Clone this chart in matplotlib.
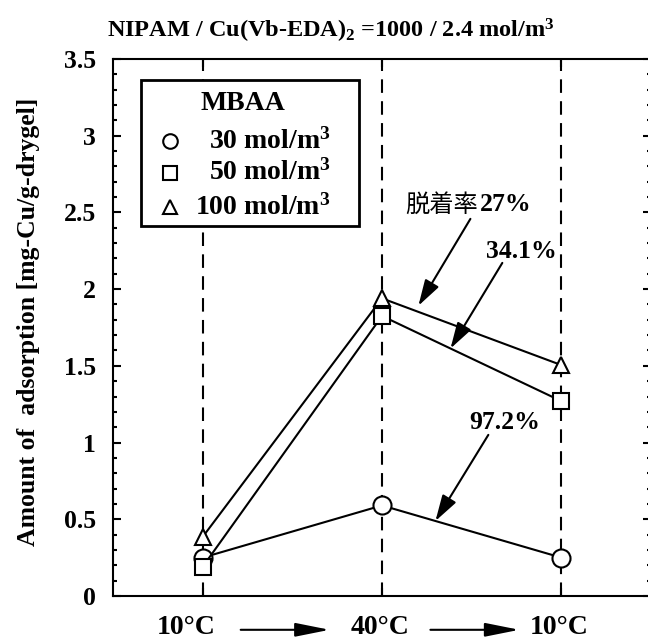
import matplotlib
matplotlib.use('Agg')
import matplotlib.pyplot as plt
from matplotlib.patches import Rectangle
from matplotlib.ticker import MultipleLocator, FormatStrFormatter
import numpy as np

plt.rcParams['font.family'] = 'Liberation Serif'
plt.rcParams['font.weight'] = 'bold'
plt.rcParams['mathtext.fontset'] = 'custom'
plt.rcParams['mathtext.rm'] = 'Liberation Serif:bold'
plt.rcParams['mathtext.bf'] = 'Liberation Serif:bold'
plt.rcParams['mathtext.it'] = 'Liberation Serif:bold'

# data
steps = [1, 2, 3]
step_labels = ['10°C', '40°C', '10°C']
mbaa_labels = ['30 mol/m$^3$', '50 mol/m$^3$', '100 mol/m$^3$']
mbaa_markers = ['o', 's', '^']
ads_30 = [0.25, 0.59, 0.25]
ads_50 = [0.19, 1.825, 1.27]
ads_100 = [0.385, 1.94, 1.505]
desorption = ['97.2%', '34.1%', '27%']

series = [ads_30, ads_50, ads_100]

fig = plt.figure(figsize=(6.48, 6.42), dpi=100)
ax = fig.add_axes([0.1744, 0.0717, 0.8302, 0.8364])

for vals, mk in zip(series, mbaa_markers):
    ms = 13 if mk == 'o' else 12
    ax.plot(steps, vals, color='k', lw=1.5, marker=mk, ms=ms,
            mfc='white', mec='k', mew=1.5, zorder=3)

for s in steps:
    ax.axvline(s, color='k', lw=1.5, ls=(0, (6.5, 4)), zorder=1)

ax.set_xlim(0.5, 3.5)
ax.set_ylim(0, 3.5)
ax.set_xticks(steps)
ax.set_xticklabels([])
ax.yaxis.set_major_locator(MultipleLocator(0.5))
ax.yaxis.set_minor_locator(MultipleLocator(0.1))
ax.yaxis.set_major_formatter(FormatStrFormatter('%g'))
ax.tick_params(which='both', direction='in', top=True, right=True, width=1.5)
ax.tick_params(which='major', length=6, labelsize=18.5, pad=12)
ax.tick_params(which='minor', length=3)
for sp in ax.spines.values():
    sp.set_linewidth(1.5)

ax.set_ylabel('Amount of  adsorption [mg-Cu/g-drygel]', fontsize=18.5,
              fontweight='bold')
ax.yaxis.set_label_coords(-0.136, 0.51)

fig.text(0.511, 0.952, 'NIPAM / Cu(Vb-EDA)$_2$ =1000 / 2.4 mol/m$^3$',
         ha='center', va='center', fontsize=17.5, fontweight='bold')

# temperature sequence under the axis
trans = ax.get_xaxis_transform()
label_x = [0.91, 1.99, 2.99]
for xl, lab in zip(label_x, step_labels):
    ax.text(xl, -0.058, lab, transform=trans, ha='center', va='center',
            fontsize=20, fontweight='bold', clip_on=False)
for x0, x1 in [(1.212, 1.708), (2.27, 2.766)]:
    ax.annotate('', xy=(x1, -0.063), xytext=(x0, -0.063), xycoords=trans,
                textcoords=trans, annotation_clip=False,
                arrowprops=dict(arrowstyle='-|>,head_length=1.5,head_width=0.3',
                                mutation_scale=14, color='k', lw=1.5, shrinkA=0, shrinkB=0))

# legend box
ax.add_patch(Rectangle((0.052, 0.689), 0.405, 0.272, transform=ax.transAxes,
                       fill=True, fc='white', ec='k', lw=2, zorder=4))
ax.text(0.2416, 0.918, 'MBAA', transform=ax.transAxes, ha='center', va='center',
        fontsize=20, fontweight='bold', zorder=5)
rows_y = [0.847, 0.788, 0.724]
for yy, mk, lab in zip(rows_y, mbaa_markers, mbaa_labels):
    ax.plot([0.106], [yy], transform=ax.transAxes, marker=mk, ms=10.5, mfc='white',
            mec='k', mew=1.5, ls='none', zorder=5, clip_on=False)
    ax.text(0.405, yy, lab, transform=ax.transAxes, ha='right', va='center',
            fontsize=20, fontweight='bold', zorder=5)


def on_line(vals, x):
    return np.interp(x, steps, vals)


arrow_kw = dict(arrowstyle='-|>,head_length=1.0,head_width=0.3', mutation_scale=16,
                color='k', lw=1.5, shrinkA=0, shrinkB=0)

# 97.2 % (30 mol/m3)
ax.annotate('', xy=(2.298, on_line(ads_30, 2.298)), xytext=(2.593, 1.05),
            arrowprops=arrow_kw)
ax.text(2.682, 1.128, desorption[0], ha='center', va='center', fontsize=18.5,
        fontweight='bold')
# 34.1 % (50 mol/m3)
ax.annotate('', xy=(2.382, on_line(ads_50, 2.382)), xytext=(2.671, 2.171),
            arrowprops=arrow_kw)
ax.text(2.777, 2.243, desorption[1], ha='center', va='center', fontsize=18.5,
        fontweight='bold')
# 27 % (100 mol/m3)
ax.annotate('', xy=(2.203, on_line(ads_100, 2.203) + 0.04), xytext=(2.493, 2.458),
            arrowprops=arrow_kw)
ax.text(2.535, 2.55, '脱着率', ha='right', va='center', fontsize=17.5,
        family='Noto Sans CJK JP', fontweight='normal')
ax.text(2.545, 2.55, desorption[2], ha='left', va='center', fontsize=18.5,
        fontweight='bold')

fig.savefig('out.png', dpi=100)
